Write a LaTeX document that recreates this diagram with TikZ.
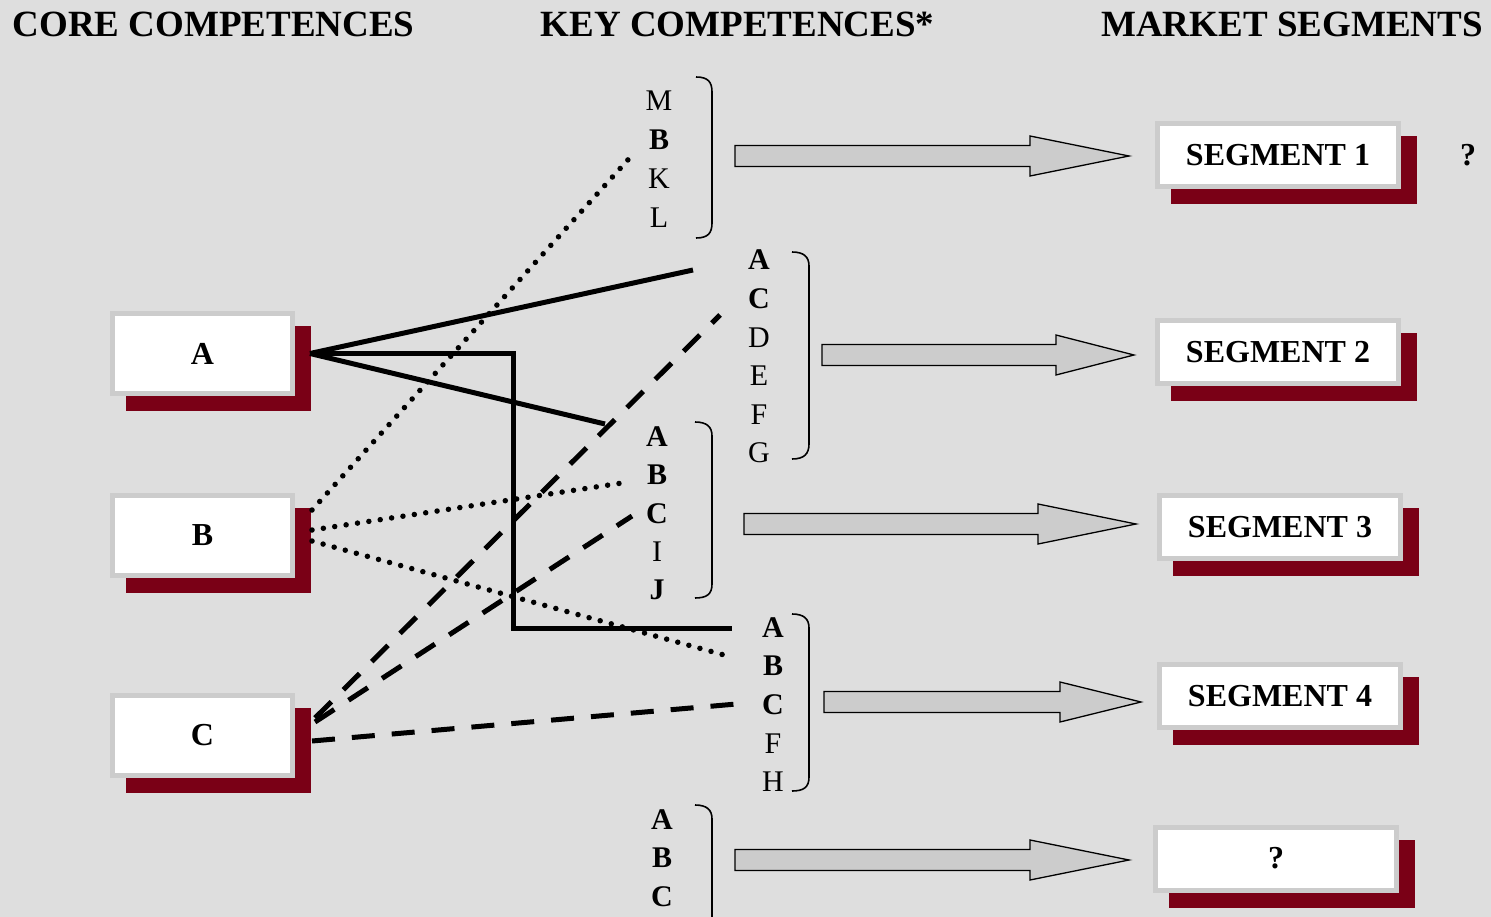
\documentclass[tikz,border=0pt]{standalone}
\usepackage{fontspec}
\setmainfont{Liberation Serif}
\definecolor{bg}{RGB}{222,222,222}
\definecolor{boxgray}{RGB}{204,204,204}
\definecolor{maroon}{RGB}{122,0,22}
\definecolor{arrowfill}{RGB}{204,204,204}
% block arrow: tail x, head base x, tip x, centre y
\newcommand\blkarrow[4]{%
  \draw[blockarrow] (#1,#4-10.5) -- (#2,#4-10.5) -- (#2,#4-20) -- (#3,#4)
    -- (#2,#4+20) -- (#2,#4+10.5) -- (#1,#4+10.5) -- cycle;}
\begin{document}
\begin{tikzpicture}[x=1pt,y=-1pt,
  heading/.style={font=\fontsize{37}{40}\selectfont\bfseries, anchor=base, inner sep=0pt},
  boxbase/.style={draw=boxgray, fill=white, line width=5pt,
    font=\fontsize{32}{36}\selectfont\bfseries,
    preaction={fill=maroon, draw=maroon, line width=5pt,
      transform canvas={xshift=16pt, yshift=-15pt}}},
  corebox/.style={boxbase, minimum width=180pt, minimum height=80pt},
  segbox/.style={boxbase, minimum width=241pt, minimum height=63pt},
  letter/.style={font=\fontsize{30}{32}\selectfont, anchor=base, inner sep=0pt},
  bracket/.style={draw=black, line width=1.6pt},
  blockarrow/.style={draw=black, fill=arrowfill, line width=1.3pt, line join=miter},
  solidline/.style={draw=black, line width=5pt},
  dotline/.style={draw=black, line width=5.5pt, line cap=round, dash pattern=on 0pt off 11.5pt},
  dashline/.style={draw=black, line width=5pt, dash pattern=on 23pt off 17pt},
]
\useasboundingbox (0,0) rectangle (1491,917);
\clip (0,0) rectangle (1491,917);
\fill[bg] (0,0) rectangle (1491,917);

% column headings
\node[heading] (h1) at (213.5,37) {CORE COMPETENCES};
\node[heading] (h2) at (737.5,37) {KEY COMPETENCES*};
\node[heading] (h3) at (1292,37) {MARKET SEGMENTS};

% core competence boxes
\node[corebox] (A) at (202.5,353.5) {A};
\node[corebox] (B) at (202.5,535.5) {B};
\node[corebox] (C) at (202.5,735.5) {C};

% market segment boxes
\node[segbox] (S1) at (1278,155) {SEGMENT 1};
\node[segbox] (S2) at (1278,352) {SEGMENT 2};
\node[segbox] (S3) at (1280,527) {SEGMENT 3};
\node[segbox] (S4) at (1280,696) {SEGMENT 4};
\node[segbox] (S5) at (1276,858.5) {?};
\node[font=\fontsize{32}{36}\selectfont\bfseries] (q1) at (1468,155) {?};

% key competence lists
\foreach \t [count=\i from 0] in {M,\textbf{B},K,L}
  \node[letter] (ga-\i) at (659,111+38.8*\i) {\t};
\foreach \t [count=\i from 0] in {\textbf{A},\textbf{C},D,E,F,G}
  \node[letter] (gb-\i) at (759,270+38.5*\i) {\t};
\foreach \t [count=\i from 0] in {\textbf{A},\textbf{B},\textbf{C},I,\textbf{J}}
  \node[letter] (gc-\i) at (657,446.5+38.3*\i) {\t};
\foreach \t [count=\i from 0] in {\textbf{A},\textbf{B},\textbf{C},F,H}
  \node[letter] (gd-\i) at (773,637+38.7*\i) {\t};
\foreach \t [count=\i from 0] in {\textbf{A},\textbf{B},\textbf{C}}
  \node[letter] (ge-\i) at (662,829+38.8*\i) {\t};

% closing brackets of the lists
\draw[bracket] (696,77) .. controls (708,77) and (712,82) .. (712,92) -- (712,223)
  .. controls (712,233) and (708,238) .. (696,238);
\draw[bracket] (792,252) .. controls (804,252) and (809,257) .. (809,266) -- (809,444)
  .. controls (809,454) and (804,459) .. (792,459);
\draw[bracket] (695,422) .. controls (707,422) and (712,427) .. (712,436) -- (712,584)
  .. controls (712,594) and (707,598) .. (695,598);
\draw[bracket] (792,614) .. controls (804,614) and (809,619) .. (809,628) -- (809,777)
  .. controls (809,787) and (804,791) .. (792,791);
\draw[bracket] (695,805) .. controls (707,805) and (712,810) .. (712,819) -- (712,940);

% block arrows towards the segments
\blkarrow{735}{1030}{1129}{156}
\blkarrow{822}{1056}{1134}{355}
\blkarrow{744}{1038}{1136}{524}
\blkarrow{824}{1060}{1141}{702}
\blkarrow{735}{1030}{1129}{860}

% line ends at the key competences
\coordinate (ka1) at (693,270);
\coordinate (ka2) at (605,424);
\coordinate (ka3) at (732,628);
\coordinate (kbend) at (513,628);
\coordinate (kb1) at (635,152);
\coordinate (kb2) at (622,483);
\coordinate (kb3) at (724,655);
\coordinate (kc1) at (720,315);
\coordinate (kc2) at (632,516);
\coordinate (kc3) at (748,703);

% links from core competence A
\draw[solidline] ([xshift=15pt]A.east) -- (ka1);
\draw[solidline] ([xshift=15pt]A.east) -- (ka2);
\draw[solidline] ([xshift=15pt]A.east) -| (kbend) -- (ka3);

% links from core competence B
\draw[dotline] ([shift={(17,-25.5)}]B.east) -- (kb1);
\draw[dotline] ([shift={(17,-5.5)}]B.east) -- (kb2);
\draw[dotline] ([shift={(17,5.5)}]B.east) -- (kb3);

% links from core competence C
\draw[dashline] ([shift={(20,-17.5)}]C.east) -- (kc1);
\draw[dashline] ([shift={(20,-13.5)}]C.east) -- (kc2);
\draw[dashline] ([shift={(17,5.5)}]C.east) -- (kc3);
\end{tikzpicture}
\end{document}
